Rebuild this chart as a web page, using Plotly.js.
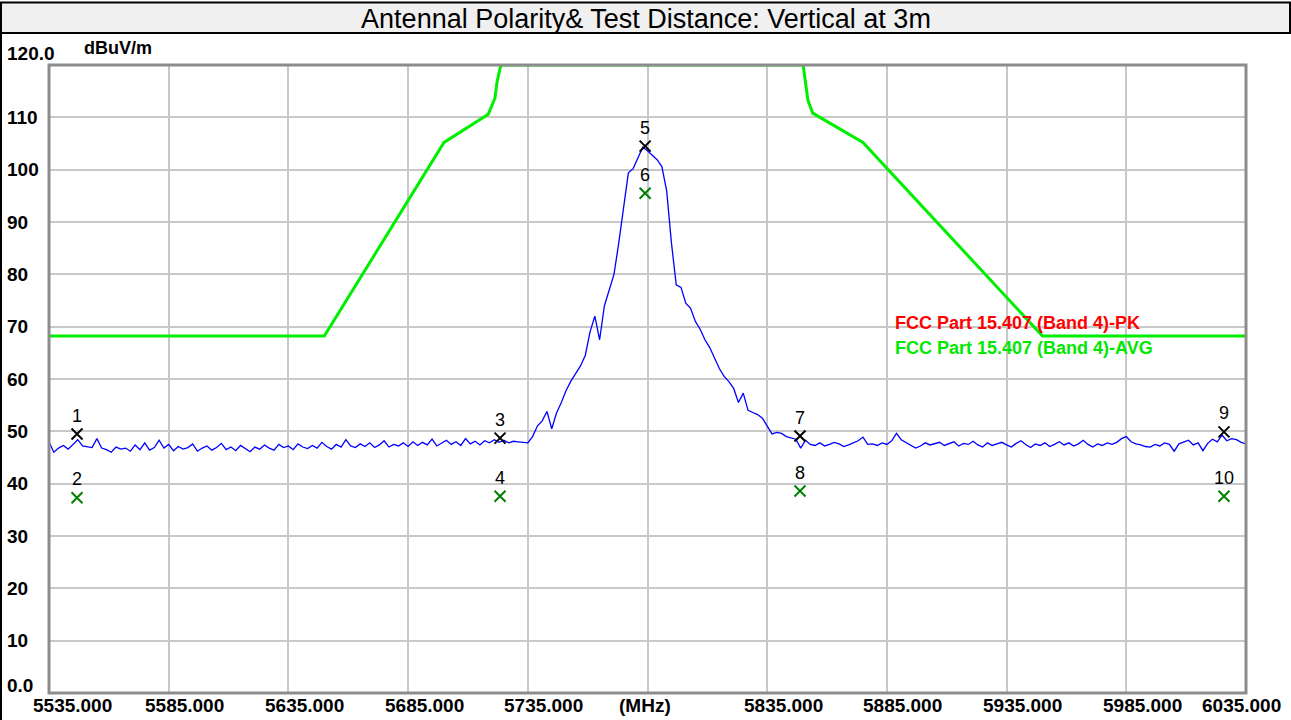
<!DOCTYPE html>
<html>
<head>
<meta charset="utf-8">
<script src="https://cdn.plot.ly/plotly-3.0.1.min.js"></script>
<style>
  html, body { margin: 0; padding: 0; background: #ffffff; }
  #chart { width: 1291px; height: 720px; }
</style>
</head>
<body>
<div id="chart"></div>
<script>
// ---- data ----
const titleText = "Antennal Polarity& Test Distance: Vertical at 3m";
const unitText = "dBuV/m";

// sweep (peak detector trace) : start, step (MHz) and levels (dBuV/m)
const sweepStart = 5535;
const sweepStep = 2;
const sweepLevels = [
  // 5535 - 5553
  48.0, 46.0, 46.8, 47.3, 46.6, 47.6, 48.4, 47.2, 47.0, 46.9,
  // 5555 - 5573
  48.6, 46.8, 46.5, 46.0, 47.0, 46.6, 46.8, 46.2, 47.4, 46.5,
  // 5575 - 5593
  47.8, 46.4, 46.9, 48.3, 46.8, 47.5, 46.3, 47.1, 46.6, 46.9,
  // 5595 - 5613
  47.6, 46.2, 46.8, 47.2, 46.4, 46.9, 47.7, 46.5, 47.0, 46.3,
  // 5615 - 5633
  47.3, 46.7, 46.1, 47.0, 46.6, 47.4, 46.8, 46.4, 47.5, 46.9,
  // 5635 - 5653
  47.2, 46.5, 47.6, 47.0, 46.7, 47.3, 46.8, 47.9, 47.1, 46.6,
  // 5655 - 5673
  47.5, 47.0, 48.4, 47.2, 46.9, 47.6, 47.1, 47.8, 46.9, 47.4,
  // 5675 - 5693
  48.2, 47.0, 47.5, 47.2, 47.8, 47.1, 48.0, 47.3, 47.9, 47.4,
  // 5695 - 5713
  48.5, 47.2, 47.7, 48.3, 47.5, 48.0, 47.3, 48.6, 47.6, 48.1,
  // 5715 - 5733
  47.4, 48.2, 47.8, 48.4, 47.9, 48.3, 47.8, 48.1, 48.0, 47.9,
  // 5735
  47.8,
  // 5737 - 5755
  49.0, 51.0, 52.0, 53.8, 50.5, 53.5, 55.5, 57.8, 59.6, 61.0,
  // 5757 - 5775
  62.5, 64.5, 69.0, 72.0, 67.5, 74.0, 77.0, 80.0, 86.0, 93.0,
  // 5777 - 5795
  99.4, 100.2, 102.2, 104.3, 103.6, 102.8, 101.9, 100.6, 96.0, 86.0,
  // 5797 - 5815
  78.0, 77.5, 74.5, 73.5, 71.0, 69.5, 67.5, 66.0, 64.0, 62.0,
  // 5817 - 5835
  60.5, 59.5, 58.2, 55.5, 57.3, 54.0, 53.6, 53.2, 52.5, 51.0,
  // 5837 - 5849
  49.5, 49.8, 49.6, 49.0, 48.8, 48.5, 46.8,
  // 5851 - 5869
  48.3, 47.5, 47.3, 47.8, 47.2, 47.5, 47.9, 47.6, 47.1, 47.4,
  // 5871 - 5889
  47.8, 48.2, 48.9, 47.5, 47.6, 47.3, 47.8, 47.5, 48.2, 49.6,
  // 5891 - 5909
  48.4, 47.9, 47.3, 46.8, 47.2, 47.8, 47.4, 47.7, 47.9, 47.3,
  // 5911 - 5929
  47.6, 48.0, 47.2, 47.7, 47.5, 48.1, 47.4, 47.0, 47.8, 47.3,
  // 5931 - 5949
  47.6, 47.9, 47.4, 47.0, 47.7, 48.2, 47.5, 46.9, 47.6, 47.3,
  // 5951 - 5969
  47.8, 47.1, 47.5, 48.0, 47.4, 47.8, 47.2, 47.6, 48.3, 47.5,
  // 5971 - 5989
  47.0, 47.6, 47.3, 47.8, 47.5, 47.9, 48.6, 49.0, 48.0, 47.6,
  // 5991 - 6009
  47.4, 47.1, 47.0, 47.5, 47.2, 47.8, 47.5, 46.2, 47.6, 47.9,
  // 6011 - 6029
  48.3, 47.4, 47.8, 46.3, 47.7, 48.5, 48.0, 49.3, 48.2, 48.6,
  // 6031 - 6035
  48.4, 47.9, 47.6
];

// FCC Part 15.407 (Band 4) limit line as drawn (clipped at the 120 top)
const limitFreq = [5535, 5650, 5700, 5709.5, 5716.3, 5718.5, 5721.3, 5722.1, 5723.4, 5724,
                   5850, 5851, 5852, 5854, 5860, 5875, 5950, 6035];
const limitLevel = [68.2, 68.2, 105.2, 108.0, 109.9, 110.6, 113.7, 116.6, 119.4, 120,
                    120, 117.0, 113.3, 110.8, 109.2, 105.2, 68.2, 68.2];

// markers
const markerFreq = [5546.7, 5723.4, 5784.0, 5848.7, 6025.8];
const peakLevel = [49.5, 48.7, 104.5, 49.1, 49.9];
const peakLabels = ["1", "3", "5", "7", "9"];
const avgLevel = [37.3, 37.6, 95.5, 38.6, 37.6];
const avgLabels = ["2", "4", "6", "8", "10"];

// axes
const xTicks = [5535, 5585, 5635, 5685, 5735, 5785, 5835, 5885, 5935, 5985, 6035];
const xTickText = ["5535.000", "5585.000", "5635.000", "5685.000", "5735.000", "(MHz)",
                   "5835.000", "5885.000", "5935.000", "5985.000", "6035.000"];
const yTicks = [0, 10, 20, 30, 40, 50, 60, 70, 80, 90, 100, 110, 120];
const yTickText = ["0.0", "10", "20", "30", "40", "50", "60", "70", "80", "90", "100", "110", "120.0"];

const legendTexts = ["FCC Part 15.407 (Band 4)-PK", "FCC Part 15.407 (Band 4)-AVG"];
const legendColors = ["#ff0000", "#00e800"];

// ---- layout geometry (pixels) ----
const W = 1291, H = 720;
const L = 49, R = 1246, T = 65, B = 693;
const pw = R - L, ph = B - T;
const px = v => (v - L) / pw;       // pixel -> paper x
const py = v => (B - v) / ph;       // pixel -> paper y

const FONT = "Liberation Sans, Arial, sans-serif";

const traces = [
  {
    type: "scatter", mode: "lines",
    x0: sweepStart, dx: sweepStep, y: sweepLevels,
    line: { color: "#0000ff", width: 1.3 },
    hoverinfo: "skip", showlegend: false
  },
  {
    type: "scatter", mode: "lines",
    x: limitFreq, y: limitLevel,
    line: { color: "#00ee00", width: 3 },
    hoverinfo: "skip", showlegend: false, cliponaxis: false
  },
  {
    type: "scatter", mode: "markers+text",
    x: markerFreq, y: peakLevel, text: peakLabels,
    textposition: "top center",
    textfont: { family: FONT, size: 18, color: "#000000" },
    marker: { symbol: "x-thin-open", size: 11, color: "#000000", line: { color: "#000000", width: 2 } },
    hoverinfo: "skip", showlegend: false
  },
  {
    type: "scatter", mode: "markers+text",
    x: markerFreq, y: avgLevel, text: avgLabels,
    textposition: "top center",
    textfont: { family: FONT, size: 18, color: "#000000" },
    marker: { symbol: "x-thin-open", size: 11, color: "#008000", line: { color: "#008000", width: 2 } },
    hoverinfo: "skip", showlegend: false
  }
];

const annotations = [];
// y tick labels (left aligned at the page edge)
yTicks.forEach((v, i) => {
  let shift = 0;
  if (v === 120) shift = 12;
  if (v === 0) shift = 8;
  annotations.push({
    xref: "paper", yref: "y", x: px(5), y: v, yshift: shift,
    xanchor: "left", yanchor: "middle", showarrow: false,
    text: "<b>" + yTickText[i] + "</b>",
    font: { family: FONT, size: 19, color: "#000000" }
  });
});
// x tick labels
xTicks.forEach((v, i) => {
  let shift = 16, anchor = "center";
  if (i === 0) shift = 23;
  if (xTickText[i] === "(MHz)") shift = -3;
  if (i === xTicks.length - 1) { shift = 37; anchor = "right"; }
  annotations.push({
    xref: "x", yref: "paper", x: v, y: py(705),
    xshift: shift, xanchor: anchor, yanchor: "middle", showarrow: false,
    text: "<b>" + xTickText[i] + "</b>",
    font: { family: FONT, size: 19, color: "#000000" }
  });
});
// unit label
annotations.push({
  xref: "paper", yref: "paper", x: px(82), y: py(48),
  xanchor: "left", yanchor: "middle", showarrow: false,
  text: "<b>" + unitText + "</b>",
  font: { family: FONT, size: 18, color: "#000000" }
});
// legend texts
legendTexts.forEach((t, i) => {
  annotations.push({
    xref: "paper", yref: "paper", x: px(893), y: py(i === 0 ? 323 : 348),
    xanchor: "left", yanchor: "middle", showarrow: false,
    text: "<b>" + t + "</b>",
    font: { family: FONT, size: 18, color: legendColors[i] }
  });
});

const shapes = [
  // title bar
  { type: "rect", xref: "paper", yref: "paper", layer: "below",
    x0: px(0), x1: px(W - 1), y0: py(33), y1: py(2.5),
    fillcolor: "#f0f0f0", line: { color: "#000000", width: 2 } },
  // left page border
  { type: "line", xref: "paper", yref: "paper", layer: "above",
    x0: px(1), x1: px(1), y0: py(H), y1: py(2),
    line: { color: "#000000", width: 2 } },
  // plot frame
  { type: "rect", xref: "paper", yref: "paper", layer: "above",
    x0: 0, x1: 1, y0: 0, y1: 1,
    line: { color: "#8c8c8c", width: 3 } }
];

const layout = {
  width: W, height: H,
  margin: { l: L, r: W - R, t: T, b: H - B, pad: 0 },
  paper_bgcolor: "#ffffff", plot_bgcolor: "#ffffff",
  title: {
    text: titleText,
    xref: "container", yref: "container",
    x: 646 / W, y: 1 - 19 / H, xanchor: "center", yanchor: "middle",
    font: { family: FONT, size: 27, color: "#000000" }
  },
  xaxis: {
    range: [5535, 6035], tickmode: "array", tickvals: xTicks,
    showticklabels: false, ticks: "",
    showgrid: true, gridcolor: "#c8c8c8", gridwidth: 2,
    zeroline: false, showline: false, fixedrange: true
  },
  yaxis: {
    range: [0, 120], tickmode: "array", tickvals: yTicks,
    showticklabels: false, ticks: "",
    showgrid: true, gridcolor: "#c8c8c8", gridwidth: 2,
    zeroline: false, showline: false, fixedrange: true
  },
  showlegend: false,
  annotations: annotations,
  shapes: shapes
};

Plotly.newPlot("chart", traces, layout, { displayModeBar: false, staticPlot: true });
</script>
</body>
</html>
